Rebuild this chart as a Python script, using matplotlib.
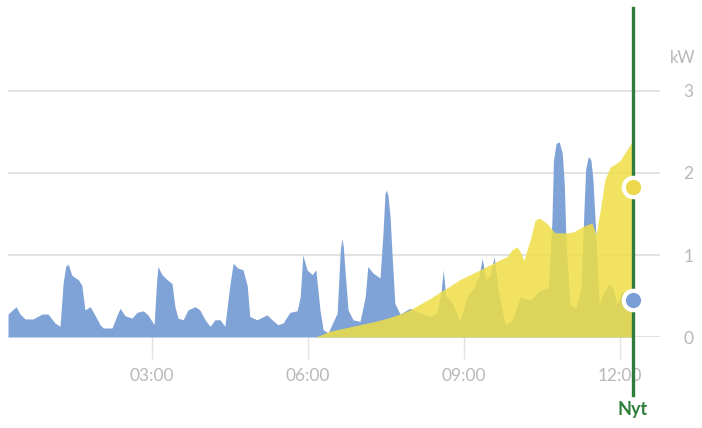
import matplotlib
matplotlib.use("Agg")
import matplotlib.pyplot as plt

# ---- data (hours since midnight, kW) ----
cons_hours = [0.23, 0.385, 0.46, 0.56, 0.71, 0.885, 1.0, 1.135, 1.23, 1.29, 1.34, 1.385, 1.46, 1.58, 1.65,
              1.71, 1.81, 1.90, 2.0, 2.06, 2.23, 2.33, 2.385, 2.48, 2.615, 2.71, 2.83, 2.92, 3.04,
              3.09, 3.115, 3.19, 3.29, 3.385, 3.44, 3.50, 3.60, 3.69, 3.83, 3.92, 4.02, 4.115, 4.21, 4.31,
              4.40, 4.50, 4.56, 4.65, 4.75, 4.83, 4.88, 5.02, 5.21, 5.31, 5.42, 5.52, 5.65, 5.79,
              5.85, 5.90, 5.98, 6.08, 6.15, 6.23, 6.29, 6.385, 6.56, 6.62, 6.65, 6.68, 6.71, 6.77, 6.865, 7.0,
              7.10, 7.15, 7.25, 7.385, 7.44, 7.48, 7.51, 7.54, 7.58, 7.615, 7.67, 7.77, 7.96, 8.15, 8.35,
              8.48, 8.56, 8.60, 8.65, 8.77, 8.92, 9.06, 9.19, 9.29, 9.35, 9.42, 9.50, 9.58, 9.65,
              9.79, 9.92, 10.08, 10.27, 10.46, 10.62, 10.69, 10.72, 10.77, 10.83, 10.89, 10.93,
              10.96, 11.04, 11.15, 11.25, 11.31, 11.34, 11.39, 11.44, 11.48, 11.54, 11.60, 11.69,
              11.79, 11.865, 11.94, 12.04, 12.135, 12.25]
cons_kw = [0.28, 0.37, 0.28, 0.22, 0.22, 0.28, 0.28, 0.17, 0.13, 0.66, 0.86, 0.89, 0.75, 0.70, 0.63,
           0.33, 0.37, 0.27, 0.15, 0.11, 0.11, 0.27, 0.35, 0.26, 0.23, 0.30, 0.32, 0.27, 0.15,
           0.70, 0.86, 0.76, 0.70, 0.65, 0.37, 0.23, 0.21, 0.33, 0.37, 0.33, 0.21, 0.13, 0.21, 0.21,
           0.13, 0.65, 0.90, 0.84, 0.82, 0.63, 0.25, 0.21, 0.27, 0.21, 0.15, 0.17, 0.30, 0.32,
           0.49, 1.00, 0.82, 0.76, 0.82, 0.33, 0.09, 0.05, 0.29, 1.05, 1.20, 1.10, 0.82, 0.33, 0.21, 0.19,
           0.49, 0.86, 0.78, 0.72, 1.25, 1.75, 1.79, 1.72, 1.45, 1.02, 0.41, 0.28, 0.35, 0.30, 0.25,
           0.30, 0.55, 0.82, 0.50, 0.42, 0.20, 0.50, 0.60, 0.75, 0.96, 0.70, 0.75, 0.98, 0.60,
           0.15, 0.20, 0.49, 0.45, 0.57, 0.60, 1.40, 2.15, 2.36, 2.38, 2.24, 1.85,
           1.20, 0.40, 0.35, 0.60, 1.60, 2.05, 2.20, 2.16, 1.92, 1.20, 0.41, 0.55,
           0.65, 0.60, 0.41, 0.55, 0.50, 0.45]

solar_hours = [6.13, 6.23, 6.42, 6.71, 7.0, 7.29, 7.58, 7.77, 7.96, 8.15, 8.35, 8.54, 8.73, 8.92,
               9.12, 9.31, 9.50, 9.69, 9.83, 9.92, 10.02, 10.10, 10.15, 10.27, 10.37, 10.46, 10.60,
               10.75, 10.98, 11.10, 11.29, 11.46, 11.54, 11.62, 11.71, 11.81, 12.0, 12.19, 12.25]
solar_kw = [0.0, 0.02, 0.07, 0.11, 0.15, 0.19, 0.24, 0.28, 0.33, 0.40, 0.47, 0.55, 0.62, 0.70,
            0.76, 0.82, 0.88, 0.94, 0.98, 1.06, 1.10, 1.02, 0.93, 1.18, 1.43, 1.45, 1.38,
            1.27, 1.27, 1.28, 1.35, 1.39, 1.25, 1.55, 1.92, 2.07, 2.15, 2.34, 2.40]

now_hour = 12.25
now_solar = 1.83
now_cons = 0.45
now_label = "Nyt"
x_ticks = [3, 6, 9, 12]
x_labels = ["03:00", "06:00", "09:00", "12:00"]
y_ticks = [0, 1, 2, 3]
y_unit = "kW"

BLUE = "#7fa3d6"
YELLOW = "#efdf45"
GREEN = "#2e7d3a"
GRID = "#e2e2e2"
TXT = "#b8b8b8"

plt.rcParams['font.family'] = ['Lato', 'DejaVu Sans']

fig = plt.figure(figsize=(7.02, 4.28), dpi=100)
ax = fig.add_axes([8/702, (428-337)/428, (660-8)/702, 3.2*82/428])

ax.fill_between(cons_hours, 0, cons_kw, color=BLUE, lw=0, zorder=2)
ax.fill_between(solar_hours, 0, solar_kw, color=YELLOW, alpha=0.85, lw=0, zorder=3)

ax.set_xlim(0.23, (660+4)/52)
ax.set_ylim(0, 3.2)

for s in ax.spines.values():
    s.set_visible(False)

ax.set_yticks(y_ticks)
ax.yaxis.tick_right()
ax.tick_params(axis='y', length=0, pad=17, labelsize=12.5, labelcolor=TXT)
ax.grid(axis='y', color=GRID, lw=1.4, zorder=1)
ax.set_axisbelow(True)

ax.set_xticks(x_ticks)
ax.set_xticklabels(x_labels)
ax.tick_params(axis='x', length=16, width=1, color=GRID, pad=6, labelsize=12.5, labelcolor=TXT)

# now line
ax.plot([now_hour, now_hour], [-0.71, 4.01], color=GREEN, lw=2.4, clip_on=False, zorder=5)
ax.plot([now_hour], [now_solar], 'o', ms=14, mfc="#ecd84a", mec="white", mew=3, clip_on=False, zorder=6)
ax.plot([now_hour], [now_cons], 'o', ms=14, mfc="#7a9fd4", mec="white", mew=3, clip_on=False, zorder=6)
ax.annotate(now_label, xy=(now_hour, 0), xytext=(0, -52.5), textcoords='offset points',
            ha='center', va='center', color=GREEN, fontsize=13, fontweight='bold')

fig.text(683/702, 1 - 58/428, y_unit, ha='center', va='center', color=TXT, fontsize=12)

fig.savefig("out.png", dpi=100, facecolor="white")
